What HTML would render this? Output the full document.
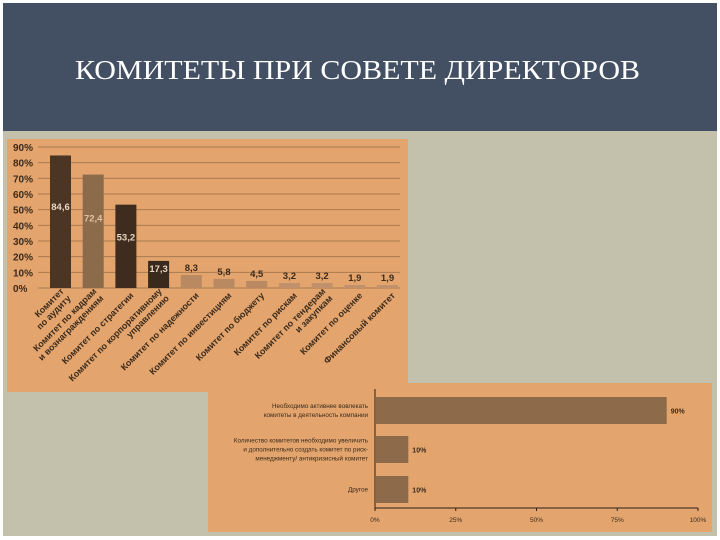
<!DOCTYPE html>
<html><head><meta charset="utf-8"><style>
html,body{margin:0;padding:0;background:#fff;}
svg{display:block;}
</style></head><body>
<svg width="720" height="540" xmlns="http://www.w3.org/2000/svg">
  <rect x="0" y="0" width="720" height="540" fill="#ffffff"/>
  <rect x="3" y="131" width="714" height="405" fill="#c3c0ac"/>
  <rect x="3" y="3" width="714" height="128" fill="#434f62"/>
  <text x="75" y="79" textLength="565" lengthAdjust="spacingAndGlyphs" font-family="'Liberation Serif',serif" font-size="27" fill="#fff">КОМИТЕТЫ ПРИ СОВЕТЕ ДИРЕКТОРОВ</text>
  <rect x="7" y="139" width="401" height="253" fill="#e3a56d"/>
  <g id="chart1"></g>
  <rect x="208" y="383" width="504" height="149" fill="#e3a56d"/>
  <g id="chart2"></g>
</svg>
<script>
const NS='http://www.w3.org/2000/svg';
const categories=['Комитет|по аудиту','Комитет по кадрам|и вознаграждениям','Комитет по стратегии','Комитет по корпоративному|управлению','Комитет по надежности','Комитет по инвестициям','Комитет по бюджету','Комитет по рискам','Комитет по тендерам|и закупкам','Комитет по оценке','Финансовый комитет'];
const values=[84.6,72.4,53.2,17.3,8.3,5.8,4.5,3.2,3.2,1.9,1.9];
const valueLabels=['84,6','72,4','53,2','17,3','8,3','5,8','4,5','3,2','3,2','1,9','1,9'];
const yTicks=[0,10,20,30,40,50,60,70,80,90];
const colors=['#4b3524','#8c6b4b','#3f2c1e','#3a2a1e','#b98a62','#b98a62','#b98a62','#c0916a','#c0916a','#c0916a','#c0916a'];
const opinions=['Необходимо активнее вовлекать|комитеты в деятельность компании','Количество комитетов необходимо увеличить|и дополнительно создать комитет по риск-|менеджменту/ антикризисный комитет','Другое'];
const opinionValues=[90,10,10];
const xTicks=[0,25,50,75,100];

function el(tag,attrs,parent){const e=document.createElementNS(NS,tag);for(const k in attrs)e.setAttribute(k,attrs[k]);parent.appendChild(e);return e;}

// chart 1
const g1=document.getElementById('chart1');
const y0=288,yTop=147,yMax=90;
const ys=v=>y0-(v/yMax)*(y0-yTop);
const x0=44,step=32.7,bw=21;
const xs=i=>x0+6+i*step;
yTicks.forEach(t=>{
  const ln=el('line',{x1:38,x2:400,y1:ys(t),y2:ys(t),stroke:'#a87a50','stroke-width':1},g1);
  
  
  const tx=el('text',{x:13,y:ys(t)+4,'font-family':'Liberation Sans,sans-serif','font-size':10,'font-weight':'bold',fill:'#3b2a1c'},g1);
  tx.textContent=t+'%';
  
  
});
values.forEach((v,i)=>{
  const r=el('rect',{x:xs(i),y:ys(v),width:bw,height:y0-ys(v),fill:colors[i]},g1);
  
  
  const inside=v>15;
  const lb=el('text',{x:xs(i)+bw/2,y:inside?ys(v*0.62)+4:ys(v)-4,'text-anchor':'middle','font-family':'Liberation Sans,sans-serif','font-size':9.5,'font-weight':'bold',fill:inside?(i==1?'#e0c2a0':'#e8d6c0'):'#3b2a1c'},g1);
  if(i===3){lb.setAttribute('y',ys(v)+11);}
  lb.textContent=valueLabels[i];
  
  
  const lines=categories[i].split('|');
  const cx=xs(i)+bw/2+6,cy=y0+6;
  const t=el('text',{transform:'translate('+cx+','+cy+') rotate(-45)','text-anchor':'end','font-family':'Liberation Sans,sans-serif','font-size':9,'font-weight':'bold',fill:'#3b2a1c'},g1);
  
  
  lines.forEach((s,k)=>{const ts=el('tspan',{x:0,dy:k?10:(lines.length>1?-3:3)},t);ts.textContent=s;});
});

// chart 2
const g2=document.getElementById('chart2');
const ax0=375,ax1=698;
const xv=v=>ax0+(v/100)*(ax1-ax0);
const rowTop=[397,436,476],bh=27;
el('line',{x1:ax0,x2:ax0,y1:389,y2:508,stroke:'#2a2018','stroke-width':1},g2);
el('line',{x1:ax0,x2:ax1,y1:508,y2:508,stroke:'#2a2018','stroke-width':1},g2);
xTicks.forEach(t=>{
  el('line',{x1:xv(t),x2:xv(t),y1:508,y2:511,stroke:'#2a2018'},g2);
  const tx=el('text',{x:xv(t),y:522,'text-anchor':'middle','font-family':'Liberation Sans,sans-serif','font-size':6.5,fill:'#3b2a1c'},g2);
  tx.textContent=t+'%';
  
  
});
opinionValues.forEach((v,i)=>{
  const r=el('rect',{x:ax0+1,y:rowTop[i],width:xv(v)-ax0,height:bh,fill:'#8c6a4a'},g2);
  
  
  const lb=el('text',{x:xv(v)+5,y:rowTop[i]+bh/2+3,'font-family':'Liberation Sans,sans-serif','font-size':7,'font-weight':'bold',fill:'#3b2a1c'},g2);
  lb.textContent=v+'%';
  
  
  const lines=opinions[i].split('|');
  const t=el('text',{'text-anchor':'end','font-family':'Liberation Sans,sans-serif','font-size':6.3,fill:'#3b2a1c'},g2);
  
  
  const startY=rowTop[i]+bh/2+2-(lines.length-1)*4.5;
  lines.forEach((s,k)=>{const ts=el('tspan',{x:368,y:startY+k*9},t);ts.textContent=s;});
});
</script>
</body></html>
